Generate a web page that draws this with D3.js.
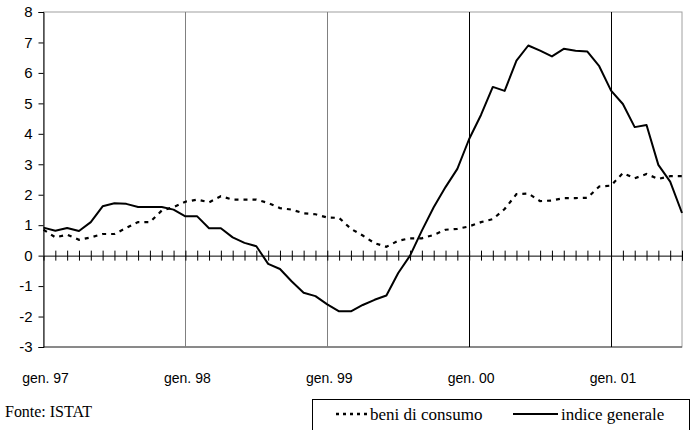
<!DOCTYPE html>
<html>
<head>
<meta charset="utf-8">
<script src="https://cdn.jsdelivr.net/npm/d3@7"></script>
<style>
  body { margin: 0; background: #fff; }
  #chart { width: 693px; height: 430px; }
</style>
</head>
<body>
<div id="chart"></div>
<script>
// monthly values, gen. 97 .. lug. 01
var indiceGenerale = [0.92,0.82,0.91,0.81,1.10,1.62,1.72,1.70,1.60,1.60,1.60,1.51,
  1.29,1.29,0.90,0.90,0.60,0.42,0.31,-0.27,-0.44,-0.85,-1.22,-1.33,
  -1.60,-1.83,-1.83,-1.62,-1.45,-1.31,-0.57,0.0,0.82,1.59,2.25,2.85,
  3.83,4.62,5.54,5.41,6.40,6.90,6.73,6.54,6.79,6.73,6.70,6.22,
  5.42,4.98,4.22,4.29,2.98,2.43,1.40];
var beniConsumo = [0.85,0.60,0.69,0.52,0.60,0.71,0.71,0.91,1.10,1.10,1.48,1.59,
  1.77,1.84,1.75,1.95,1.84,1.84,1.84,1.73,1.56,1.51,1.39,1.36,
  1.25,1.24,0.88,0.66,0.41,0.29,0.49,0.57,0.57,0.68,0.85,0.88,
  0.96,1.10,1.20,1.53,2.02,2.04,1.79,1.81,1.89,1.89,1.90,2.27,
  2.30,2.71,2.54,2.68,2.52,2.61,2.61];
var yearLabels = ["gen. 97", "gen. 98", "gen. 99", "gen. 00", "gen. 01"];
var yTicks = [-3, -2, -1, 0, 1, 2, 3, 4, 5, 6, 7, 8];
var legendLabels = ["beni di consumo", "indice generale"];
var source = "Fonte: ISTAT";

var svg = d3.select("#chart")
  .append("svg")
  .attr("width", 693)
  .attr("height", 430);

var x = d3.scaleLinear()
  .domain([0, indiceGenerale.length - 1])
  .range([43.5, 682]);

var y = d3.scaleLinear()
  .domain([-3, 8])
  .range([347, 12]);

// plot frame
svg.append("rect")
  .attr("x", x(0)).attr("y", y(8))
  .attr("width", x(54) - x(0)).attr("height", y(-3) - y(8))
  .attr("fill", "none")
  .attr("stroke", "#a0a0a0");
svg.append("line")
  .attr("x1", x(0)).attr("x2", x(54))
  .attr("y1", y(-3)).attr("y2", y(-3))
  .attr("stroke", "#444");

// year gridlines
svg.append("g")
  .selectAll("line")
  .data(yearLabels.slice(1))
  .enter()
  .append("line")
  .attr("x1", function (d, i) { return Math.round(x((i + 1) * 12)) + 0.5; })
  .attr("x2", function (d, i) { return Math.round(x((i + 1) * 12)) + 0.5; })
  .attr("y1", y(8)).attr("y2", y(-3))
  .attr("stroke", function (d, i) { return i < 2 ? "#808080" : "#000"; });

// Y axis (plain hyphen minus, like the original)
var yAxis = svg.append("g")
  .attr("transform", "translate(" + (x(0)) + ",0)")
  .call(d3.axisLeft(y).tickValues(yTicks).tickSize(5).tickPadding(6)
    .tickFormat(function (d) { return String(d); }));
yAxis.select(".domain").attr("stroke", "#000");
yAxis.selectAll("text")
  .style("font-family", "'Liberation Sans', Arial, sans-serif")
  .style("font-size", "15px")
  .attr("fill", "#000");

// zero line with month ticks crossing it
var xAxis = svg.append("g")
  .attr("transform", "translate(0," + y(0) + ")")
  .call(d3.axisBottom(x).tickValues(d3.range(1, 55)).tickSize(5).tickFormat(""));
xAxis.selectAll(".tick line").attr("y1", -5).attr("stroke", "#000");
xAxis.select(".domain").attr("stroke", "#000");

// year labels
svg.append("g")
  .selectAll("text")
  .data(yearLabels)
  .enter()
  .append("text")
  .attr("x", function (d, i) { return x(i * 12) + 2; })
  .attr("y", 383)
  .attr("text-anchor", "middle")
  .style("font-family", "'Liberation Sans', Arial, sans-serif")
  .style("font-size", "14px")
  .text(function (d) { return d; });

// lines
var line = d3.line()
  .x(function (d, i) { return x(i); })
  .y(function (d) { return y(d); });

svg.append("path")
  .datum(beniConsumo)
  .attr("d", line)
  .attr("fill", "none")
  .attr("stroke", "#000")
  .attr("stroke-width", 2.2)
  .attr("stroke-dasharray", "4,5");

svg.append("path")
  .datum(indiceGenerale)
  .attr("d", line)
  .attr("fill", "none")
  .attr("stroke", "#000")
  .attr("stroke-width", 2)
  .attr("stroke-linejoin", "round");

// source
svg.append("text")
  .attr("x", 5).attr("y", 417)
  .attr("textLength", 87)
  .style("font-family", "'Liberation Serif', 'Times New Roman', serif")
  .style("font-size", "16px")
  .text(source);

// legend
var legend = svg.append("g");
legend.append("rect")
  .attr("x", 312.5).attr("y", 399.5)
  .attr("width", 377).attr("height", 40)
  .attr("fill", "#fff")
  .attr("stroke", "#000");
legend.append("line")
  .attr("x1", 336).attr("x2", 367)
  .attr("y1", 414).attr("y2", 414)
  .attr("stroke", "#000").attr("stroke-width", 2.5)
  .attr("stroke-dasharray", "3,4");
legend.append("line")
  .attr("x1", 513).attr("x2", 558)
  .attr("y1", 414).attr("y2", 414)
  .attr("stroke", "#000").attr("stroke-width", 2);
legend.selectAll("text.lab")
  .data(legendLabels)
  .enter()
  .append("text")
  .attr("class", "lab")
  .attr("x", function (d, i) { return i == 0 ? 370 : 561; })
  .attr("y", 420)
  .style("font-family", "'Liberation Serif', 'Times New Roman', serif")
  .style("font-size", "17px")
  .text(function (d) { return d; });
</script>
</body>
</html>
